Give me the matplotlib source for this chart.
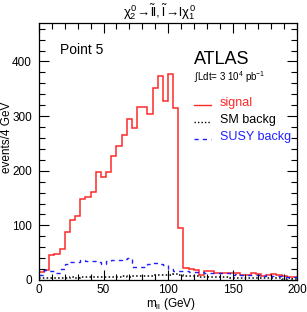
import numpy as np
import matplotlib
matplotlib.use("Agg")
import matplotlib.pyplot as plt
from matplotlib.ticker import MultipleLocator

plt.rcParams['font.family'] = ['Liberation Sans', 'DejaVu Sans']
plt.rcParams['mathtext.fontset'] = 'custom'
plt.rcParams['mathtext.rm'] = 'Liberation Sans'
plt.rcParams['mathtext.it'] = 'Liberation Sans'
plt.rcParams['mathtext.bf'] = 'Liberation Sans:bold'

# ---- data (events / 4 GeV), bins of 4 GeV from 0 to 200 GeV ----
bin_width = 4
signal = [15, 18, 45, 47, 57, 87, 109, 117, 148, 152,
          161, 198, 188, 198, 227, 245, 265, 294, 278, 316,
          316, 304, 351, 374, 327, 378, 314, 95, 22, 20,
          18, 10, 16, 16, 13, 13, 12, 13, 12, 10,
          10, 12, 11, 8, 9, 11, 10, 7, 6, 6]
sm_backg = [3, 3, 4, 3, 4, 4, 5, 4, 5, 5,
            5, 6, 5, 6, 6, 6, 7, 6, 7, 7,
            8, 8, 9, 9, 10, 10, 11, 9, 8, 7,
            7, 6, 6, 5, 5, 5, 5, 4, 4, 4,
            4, 3, 4, 3, 3, 3, 3, 2, 3, 2]
susy_backg = [10, 18, 17, 13, 21, 29, 33, 33, 36, 34,
              35, 33, 30, 34, 36, 37, 38, 40, 24, 23,
              24, 29, 32, 30, 27, 21, 17, 16, 17, 15,
              15, 14, 13, 13, 13, 12, 12, 10, 11, 10,
              10, 9, 9, 8, 9, 8, 7, 6, 6, 5]
legend_labels = ["signal", "SM backg", "SUSY backg"]
x_ticks = [0, 50, 100, 150, 200]
y_ticks = [0, 100, 200, 300, 400]

edges = np.arange(0, bin_width * (len(signal) + 1), bin_width)

fig = plt.figure(figsize=(3.07, 3.12), dpi=100)
ax = fig.add_axes([39/307, 1 - 280/312, (297-39)/307, (280-22.7)/312])

ax.stairs(signal, edges, baseline=None, color='#ff2a2a', lw=1.1)
ax.stairs(sm_backg, edges, baseline=None, color='black', lw=1.1, ls=(0, (1, 1.5)))
ax.stairs(susy_backg, edges, baseline=None, color='#2020ff', lw=1.0, ls=(0, (3, 3)))

ax.set_xlim(0, 200)
ax.set_ylim(0, 471)
ax.set_xticks(x_ticks)
ax.set_yticks(y_ticks)
ax.xaxis.set_minor_locator(MultipleLocator(10))
ax.yaxis.set_minor_locator(MultipleLocator(20))
ax.tick_params(which='both', direction='in', top=True, right=True, labelsize=8.5, width=0.8)
ax.tick_params(which='major', length=7)
ax.tick_params(which='minor', length=4)
ax.tick_params(axis='y', pad=5)
ax.tick_params(axis='x', pad=3)
for s in ax.spines.values():
    s.set_linewidth(0.9)

fig.text(7/307, 1 - 137/312, 'events/4 GeV', rotation=90, ha='center', va='center', fontsize=8.5)
fig.text(171/307, 1 - 304/312, r'm$_{\mathrm{ll}}$ (GeV)', ha='center', va='center', fontsize=8.5)
fig.text(160/307, 1 - 12/312,
         r'$\chi_2^0\!\rightarrow\!\tilde{\mathrm{l}}\mathrm{l},\tilde{\mathrm{l}}\!\rightarrow\!\mathrm{l}\chi_1^0$',
         ha='center', va='center', fontsize=9.5)

fig.text(60/307, 1 - 50/312, 'Point 5', ha='left', va='center', fontsize=10)
fig.text(194/307, 1 - 59/312, 'ATLAS', ha='left', va='center', fontsize=13)
fig.text(194/307, 1 - 77/312, r'$\int$Ldt= 3 10$^4$ pb$^{-1}$', ha='left', va='center', fontsize=7)

# legend entries
leg_colors = ['#ff2a2a', 'black', '#2020ff']
leg_styles = ['-', (0, (1, 1.5)), (0, (3, 3))]
for i, (lab, c, st) in enumerate(zip(legend_labels, leg_colors, leg_styles)):
    yy = 1 - (103 + 17 * i) / 312
    fig.add_artist(plt.Line2D([194/307, 211/307], [yy - 0.006, yy - 0.006], color=c, ls=st, lw=1.0,
                              transform=fig.transFigure))
    fig.text(220/307, yy, lab, ha='left', va='center', fontsize=9, color=c)

fig.savefig('out.png', dpi=100)
